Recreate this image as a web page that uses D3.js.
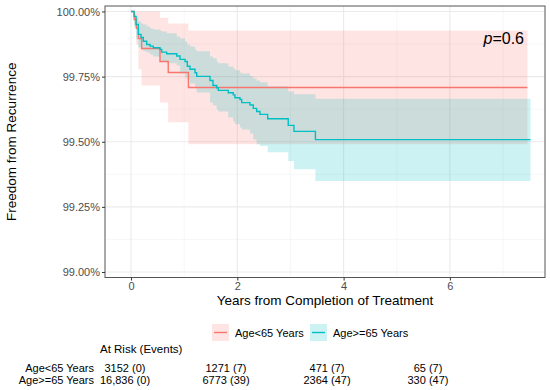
<!DOCTYPE html>
<html>
<head>
<meta charset="utf-8">
<script src="https://cdn.jsdelivr.net/npm/d3@7"></script>
<style>
  body { margin: 0; background: #fff; }
  svg { font-family: "Liberation Sans", Arial, sans-serif; }
</style>
</head>
<body>
<svg id="chart" width="550" height="390"></svg>
<script>
// Age<65 years: KM curve and 95% CI (percent)
const timeU65 = [0, 0.06, 0.10, 0.14, 0.20, 0.545, 0.70, 1.08];
const survU65 = [100, 99.969, 99.935, 99.896, 99.858, 99.808, 99.766, 99.708];
const upperU65 = [100, 100, 100, 100, 100, 99.976, 99.954, 99.927];
const lowerU65 = [100, 99.950, 99.873, 99.778, 99.716, 99.651, 99.575, 99.490];
const endU65 = 7.46;

// Age>=65 years
const timeO65 = [0, 0.056, 0.094, 0.137, 0.188, 0.231, 0.295, 0.357, 0.419, 0.545,
  0.577, 0.671, 0.860, 0.922, 1.016, 1.059, 1.110, 1.204, 1.236, 1.486,
  1.542, 1.612, 1.642, 1.830, 1.924, 1.956, 2.050, 2.082, 2.238, 2.300,
  2.364, 2.426, 2.571, 2.958, 3.066, 3.470];
const survO65 = [100, 99.981, 99.950, 99.912, 99.900, 99.886, 99.873, 99.867, 99.861, 99.854,
  99.844, 99.838, 99.829, 99.816, 99.808, 99.790, 99.778, 99.765, 99.751, 99.735,
  99.716, 99.707, 99.697, 99.688, 99.680, 99.669, 99.662, 99.650, 99.641, 99.628,
  99.616, 99.605, 99.588, 99.563, 99.540, 99.508];
const upperO65 = [100, 99.992, 99.981, 99.962, 99.954, 99.950, 99.942, 99.935, 99.931, 99.927,
  99.923, 99.916, 99.904, 99.896, 99.885, 99.873, 99.866, 99.854, 99.847, 99.827,
  99.820, 99.808, 99.801, 99.789, 99.781, 99.774, 99.766, 99.762, 99.751, 99.743,
  99.735, 99.728, 99.713, 99.693, 99.682, 99.665];
const lowerO65 = [100, 99.939, 99.893, 99.862, 99.854, 99.847, 99.843, 99.835, 99.827, 99.812,
  99.808, 99.801, 99.793, 99.762, 99.747, 99.739, 99.724, 99.705, 99.689, 99.651,
  99.639, 99.624, 99.616, 99.593, 99.578, 99.567, 99.555, 99.547, 99.532, 99.509,
  99.490, 99.484, 99.460, 99.426, 99.394, 99.349];
const endO65 = 7.517;

const groupNames = ["Age<65 Years", "Age>=65 Years"];
const groupColors = ["#F8766D", "#00BFC4"];

// ticks
const xTicks = [0, 2, 4, 6];
const xMinor = [1, 3, 5, 7];
const yTicks = [99.00, 99.25, 99.50, 99.75, 100.00];
const yMinor = [99.125, 99.375, 99.625, 99.875];

// risk table
const riskTimes = [0, 2, 4, 6];
const atRiskU65 = [3152, 1271, 471, 65];
const eventsU65 = [0, 7, 7, 7];
const atRiskO65 = [16836, 6773, 2364, 330];
const eventsO65 = [0, 39, 47, 47];

const pValue = "0.6";

const svg = d3.select("#chart");

// panel
const pLeft = 105, pRight = 545, pTop = 6, pBottom = 277.5;

let xScale = d3.scaleLinear().domain([-0.49, 7.79]).range([pLeft, pRight]);
let yScale = d3.scaleLinear().domain([98.979, 100.021]).range([pBottom, pTop]);

// grid
const grid = svg.append("g");
grid.selectAll(".ymin").data(yMinor).enter().append("line")
  .attr("x1", pLeft).attr("x2", pRight)
  .attr("y1", d => yScale(d)).attr("y2", d => yScale(d))
  .attr("stroke", "#F2F2F2").attr("stroke-width", 0.6);
grid.selectAll(".xmin").data(xMinor).enter().append("line")
  .attr("y1", pTop).attr("y2", pBottom)
  .attr("x1", d => xScale(d)).attr("x2", d => xScale(d))
  .attr("stroke", "#F2F2F2").attr("stroke-width", 0.6);
grid.selectAll(".ymaj").data(yTicks).enter().append("line")
  .attr("x1", pLeft).attr("x2", pRight)
  .attr("y1", d => yScale(d)).attr("y2", d => yScale(d))
  .attr("stroke", "#EBEBEB").attr("stroke-width", 1.1);
grid.selectAll(".xmaj").data(xTicks).enter().append("line")
  .attr("y1", pTop).attr("y2", pBottom)
  .attr("x1", d => xScale(d)).attr("x2", d => xScale(d))
  .attr("stroke", "#EBEBEB").attr("stroke-width", 1.1);

// build step data with end point
function steps(times, vals, end) {
  let pts = times.map((t, i) => ({ t: t, v: vals[i] }));
  pts.push({ t: end, v: vals[vals.length - 1] });
  return pts;
}
function band(times, lo, hi, end) {
  let pts = times.map((t, i) => ({ t: t, lo: lo[i], hi: hi[i] }));
  pts.push({ t: end, lo: lo[lo.length - 1], hi: hi[hi.length - 1] });
  return pts;
}

const bands = [
  band(timeU65, lowerU65, upperU65, endU65),
  band(timeO65, lowerO65, upperO65, endO65)
];
const curves = [
  steps(timeU65, survU65, endU65),
  steps(timeO65, survO65, endO65)
];

const area = d3.area()
  .curve(d3.curveStepAfter)
  .x(d => xScale(d.t))
  .y0(d => yScale(d.lo))
  .y1(d => yScale(d.hi));

const line = d3.line()
  .curve(d3.curveStepAfter)
  .x(d => xScale(d.t))
  .y(d => yScale(d.v));

svg.selectAll(".band").data(bands).enter().append("path")
  .attr("d", area)
  .attr("fill", (d, i) => groupColors[i])
  .attr("fill-opacity", 0.2);

svg.selectAll(".curve").data(curves).enter().append("path")
  .attr("d", line)
  .attr("fill", "none")
  .attr("stroke", (d, i) => groupColors[i])
  .attr("stroke-width", 1.4);

// panel border
svg.append("rect")
  .attr("x", pLeft).attr("y", pTop)
  .attr("width", pRight - pLeft).attr("height", pBottom - pTop)
  .attr("fill", "none").attr("stroke", "#555").attr("stroke-width", 1);

// axes
const yAxis = d3.axisLeft(yScale).tickValues(yTicks)
  .tickFormat(d => d.toFixed(2) + "%").tickSize(3).tickPadding(2);
const gy = svg.append("g").attr("transform", `translate(${pLeft},0)`).call(yAxis);
const xAxis = d3.axisBottom(xScale).tickValues(xTicks).tickSize(3).tickPadding(2);
const gx = svg.append("g").attr("transform", `translate(0,${pBottom})`).call(xAxis);
[gx, gy].forEach(g => {
  g.select(".domain").remove();
  g.selectAll(".tick line").attr("stroke", "#333");
  g.selectAll(".tick text").attr("fill", "#4D4D4D")
    .style("font-size", "11px").style("font-family", "Liberation Sans, Arial, sans-serif");
});

// titles
svg.append("text")
  .attr("transform", `translate(16,${(pTop + pBottom) / 2}) rotate(-90)`)
  .attr("text-anchor", "middle").style("font-size", "13.5px")
  .text("Freedom from Recurrence");
svg.append("text")
  .attr("x", (pLeft + pRight) / 2).attr("y", 305)
  .attr("text-anchor", "middle").style("font-size", "13.5px")
  .text("Years from Completion of Treatment");

// p-value
const pText = svg.append("text")
  .attr("x", 524).attr("y", 44)
  .attr("text-anchor", "end").style("font-size", "16px");
pText.append("tspan").style("font-style", "italic").text("p");
pText.append("tspan").text("=" + pValue);

// legend
const legendX = [212, 310];
const legend = svg.selectAll(".legend").data(groupNames).enter().append("g")
  .attr("transform", (d, i) => `translate(${legendX[i]},324)`);
legend.append("rect")
  .attr("width", 17).attr("height", 17)
  .attr("fill", (d, i) => groupColors[i]).attr("fill-opacity", 0.2);
legend.append("line")
  .attr("x1", 2).attr("x2", 15).attr("y1", 8.5).attr("y2", 8.5)
  .attr("stroke", (d, i) => groupColors[i]).attr("stroke-width", 1.4);
legend.append("text")
  .attr("x", 23).attr("y", 12.5).style("font-size", "11px")
  .text(d => d);

// risk table
const riskScale = d3.scaleLinear().domain([0, 6]).range([125, 428]);
const fmtN = n => n >= 10000 ? d3.format(",")(n) : String(n);

svg.append("text")
  .attr("x", 100).attr("y", 353).style("font-size", "11.5px")
  .text("At Risk (Events)");

const rows = [
  { name: groupNames[0], n: atRiskU65, e: eventsU65, y: 371.5 },
  { name: groupNames[1], n: atRiskO65, e: eventsO65, y: 383.5 }
];
rows.forEach(r => {
  svg.append("text")
    .attr("x", 94).attr("y", r.y).attr("text-anchor", "end")
    .style("font-size", "11px").text(r.name);
  svg.selectAll(null).data(riskTimes).enter().append("text")
    .attr("x", d => riskScale(d)).attr("y", r.y)
    .attr("text-anchor", "middle").style("font-size", "11px")
    .text((d, i) => `${fmtN(r.n[i])} (${r.e[i]})`);
});
</script>
</body>
</html>
